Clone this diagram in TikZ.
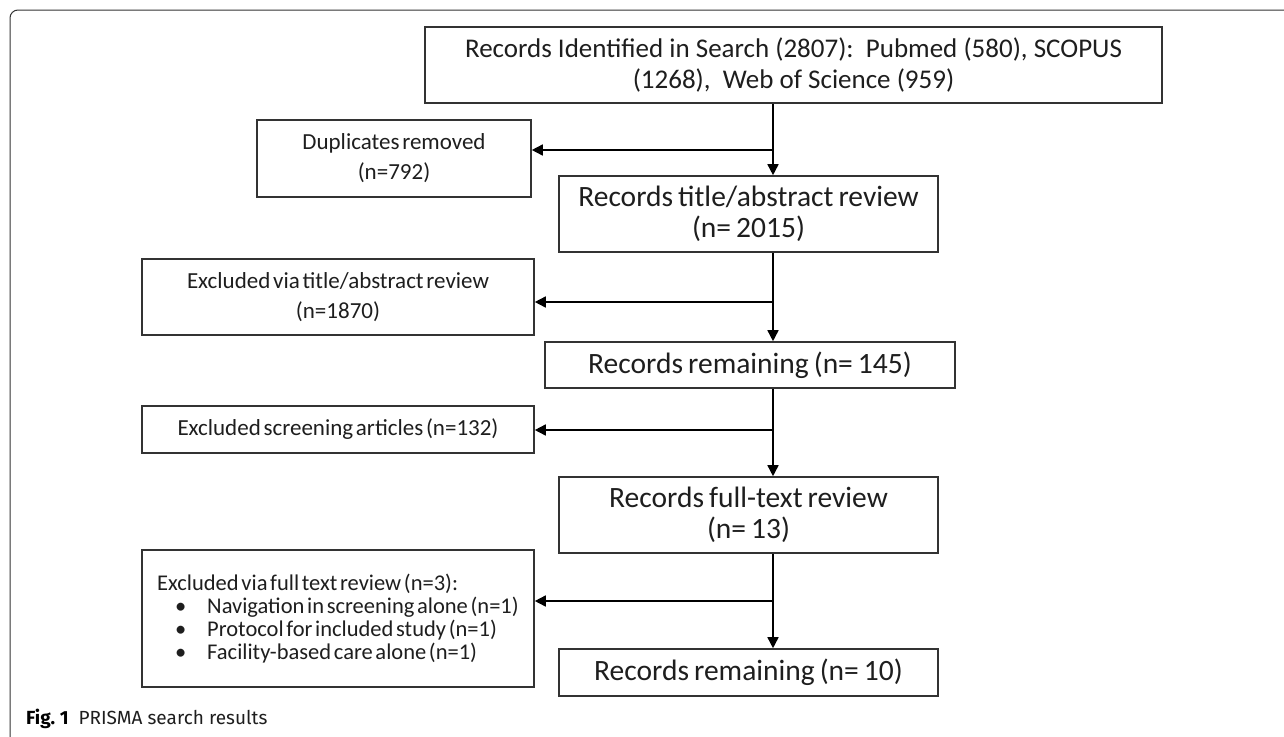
\documentclass[tikz,border=0pt]{standalone}
\usepackage{fontspec}
\setmainfont{Carlito}
\newfontfamily\capfont{Fira Sans}
\usetikzlibrary{arrows.meta}
\definecolor{ink}{HTML}{1E1E1E}
\definecolor{edgegray}{HTML}{333333}
\newcommand\smallboxfont{\fontsize{23}{30}\selectfont\spaceskip=0.12em plus 0.05em\relax}
\newcommand\listboxfont{\fontsize{22.5}{23}\selectfont\spaceskip=0.12em plus 0.05em\relax}
\newcommand\bigboxfont{\fontsize{29.5}{31}\selectfont\spaceskip=0.17em plus 0.05em\relax}
\newcommand\topboxfont{\fontsize{27}{31}\selectfont}
\begin{document}
\begin{tikzpicture}[x=1pt,y=-1pt,
  box/.style={draw=edgegray, line width=1.6pt, inner sep=0pt, align=center, text=ink,
    font=\smallboxfont},
  bigbox/.style={box, font=\bigboxfont},
  flow/.style={draw=black, line width=1.6pt, -{Triangle[length=11pt,width=11pt]}}]
\useasboundingbox (0,0) rectangle (1284,736);
\fill[white] (0,0) rectangle (1284,736);
\draw[edgegray, line width=1pt, rounded corners=8pt] (1284,10) -- (10,10) -- (10,744) -- (40,744);

\node[box, minimum width=737pt, minimum height=76pt, font=\topboxfont] (top) at (793.5,65)
  {Records Identified in Search (2807):\ \ Pubmed (580), SCOPUS\\(1268),\ \ Web of Science (959)};
\node[box, minimum width=274pt, minimum height=77pt] (dup) at (394,158.5)
  {Duplicates removed\\(n=792)};
\node[bigbox, minimum width=379pt, minimum height=76pt] (tab) at (748.5,214)
  {Records title/abstract review\\(n= 2015)};
\node[box, minimum width=392pt, minimum height=76pt] (exta) at (338,297)
  {Excluded via title/abstract review\\(n=1870)};
\node[bigbox, minimum width=410pt, minimum height=46pt] (remA) at (750,365)
  {Records remaining (n= 145)};
\node[box, minimum width=392pt, minimum height=47pt] (exscr) at (338,429.5)
  {Excluded screening articles (n=132)};
\node[bigbox, minimum width=379pt, minimum height=76pt] (ftr) at (748.5,515)
  {Records full-text review\\(n= 13)};
\node[box, minimum width=392pt, minimum height=137pt, align=left, font=\listboxfont] (exft) at (338,618.5)
  {Excluded via full text review (n=3):\\
   \makebox[50pt][l]{\hspace{18pt}\textbullet}Navigation in screening alone (n=1)\\
   \makebox[50pt][l]{\hspace{18pt}\textbullet}Protocol for included study (n=1)\\
   \makebox[50pt][l]{\hspace{18pt}\textbullet}Facility-based care alone (n=1)};
\node[bigbox, minimum width=379pt, minimum height=47pt] (remB) at (748.5,672.5)
  {Records remaining (n= 10)};

\coordinate (trunk) at (773,0);
\coordinate (b1) at (773,150);
\coordinate (b2) at (773,302);
\coordinate (b3) at (773,430);
\coordinate (b4) at (773,601);

\draw[flow] (top.south -| trunk) -- (tab.north -| trunk);
\draw[flow] (b1) -- (dup.east |- b1);
\draw[flow] (tab.south -| trunk) -- (remA.north -| trunk);
\draw[flow] (b2) -- (exta.east |- b2);
\draw[flow] (remA.south -| trunk) -- (ftr.north -| trunk);
\draw[flow] (b3) -- (exscr.east |- b3);
\draw[flow] (ftr.south -| trunk) -- (remB.north -| trunk);
\draw[flow] (b4) -- (exft.east |- b4);

\node[anchor=base west, inner sep=0pt, text=ink, font=\capfont\fontsize{19}{22}\selectfont] (cap) at (26,724)
  {\textbf{\color{black}Fig.~1}\hspace{10pt}PRISMA search results};
\end{tikzpicture}
\end{document}
